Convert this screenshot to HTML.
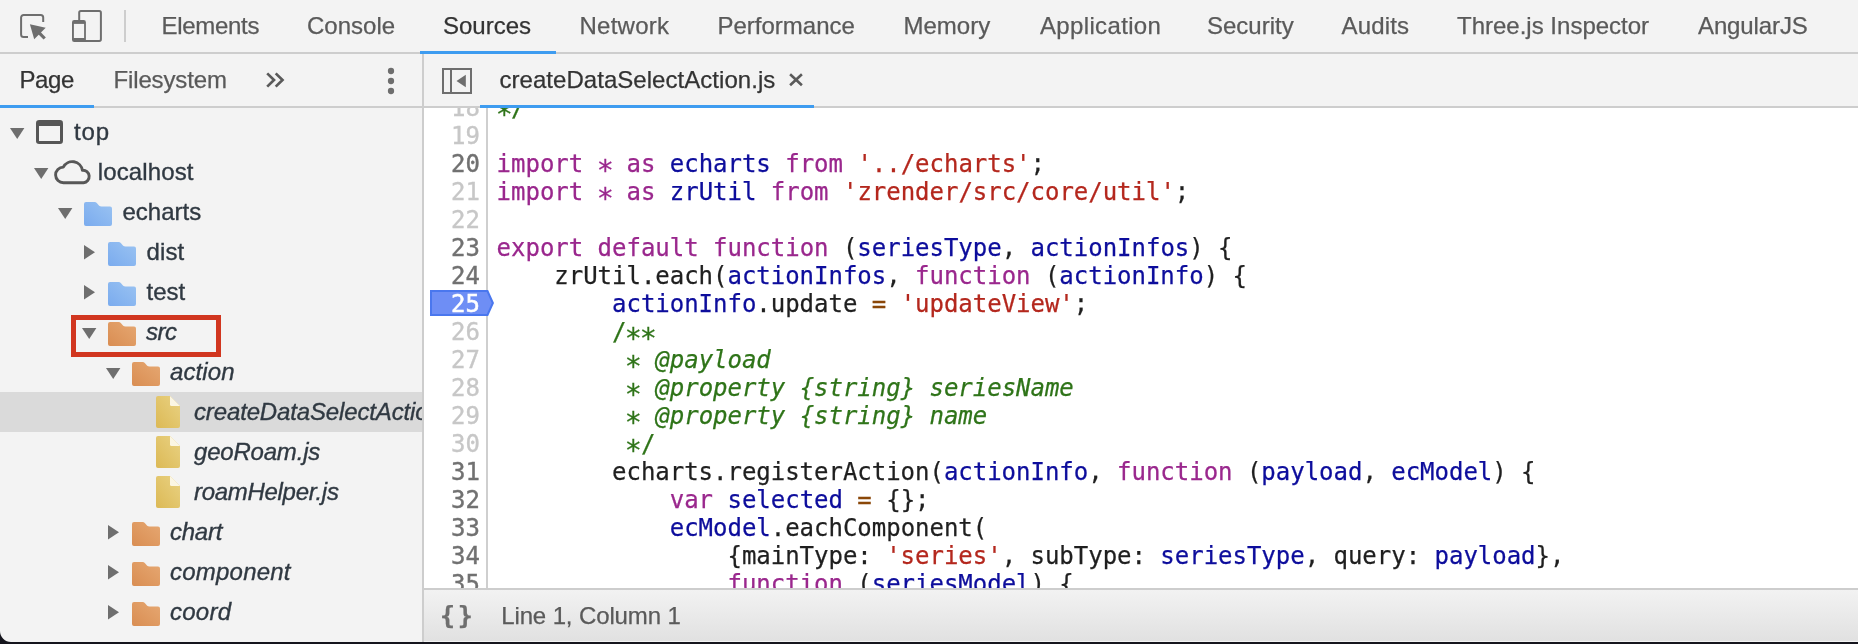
<!DOCTYPE html>
<html lang="en">
<head>
<meta charset="utf-8">
<title>DevTools - Sources</title>
<style>
html,body{margin:0;padding:0;width:1858px;height:644px;overflow:hidden;background:#f3f3f3;}
body{position:relative;font-family:"Liberation Sans",sans-serif;font-size:24px;color:#5a5a5a;-webkit-font-smoothing:antialiased;}
#app{position:absolute;left:0;top:0;width:1858px;height:644px;overflow:hidden;background:#f3f3f3;will-change:transform;}
.abs{position:absolute;}
/* main toolbar */
#topbar{position:absolute;left:0;top:0;width:1858px;height:52px;background:#f3f3f3;border-bottom:2px solid #cdcdcd;}
.tab{position:absolute;top:0;height:52px;line-height:51px;white-space:nowrap;color:#5a5a5a;font-size:24px;}
.tab.sel{color:#333;}
#tabline{position:absolute;left:420px;top:51px;width:136px;height:3px;background:#3e9cf0;}
/* second row */
#row2{position:absolute;left:0;top:54px;width:1858px;height:52px;background:#f3f3f3;border-bottom:2px solid #cdcdcd;}
.t2{position:absolute;top:54px;height:52px;line-height:51px;white-space:nowrap;font-size:24px;}
#vdiv{position:absolute;left:422px;top:54px;width:2px;height:590px;background:#cdcdcd;}
/* tree */
#tree{position:absolute;left:0;top:108px;width:422px;height:536px;overflow:hidden;background:#f3f3f3;}
.row{position:absolute;left:0;width:422px;height:40px;line-height:40px;white-space:nowrap;color:#303942;font-size:24px;}
.row.sel{background:#dadada;}
.row .lbl{position:absolute;top:-0.400px;}
.row i.lbl{font-style:italic;}
.row svg{position:absolute;}
/* code */
#code{position:absolute;left:424px;top:108px;width:1434px;height:480px;background:#fff;overflow:hidden;}
#gutter{position:absolute;left:0;top:0;width:62px;height:480px;background:#fff;border-right:2px solid #cfcfcf;}
.ln{position:absolute;left:0;width:56px;height:28px;line-height:28px;text-align:right;font-family:"DejaVu Sans Mono","Liberation Mono",monospace;font-size:24px;color:#c7c7c7;-webkit-text-stroke:0.350px currentColor;}
.ln.x{color:#717171;-webkit-text-stroke:0.400px currentColor;}
.cl{position:absolute;left:72.600px;letter-spacing:-0.020px;height:28px;line-height:28px;white-space:pre;font-family:"DejaVu Sans Mono","Liberation Mono",monospace;font-size:24px;color:#1f1f1f;}
.cl,.cl span{-webkit-text-stroke:0.250px currentColor;}
.tab,.t2,#status div{-webkit-text-stroke:0.250px currentColor;}
.lbl{-webkit-text-stroke:0.350px currentColor;}
.k{color:#9a278d;}
.d{color:#0d0d9c;}
.s{color:#b4271d;}
.o{color:#8a4708;}
.c{color:#2f7419;}
.c i{font-style:italic;}
.ast{display:inline-block;transform:translate(0,6.600px) scale(1.180);}
/* status */
#status{position:absolute;left:424px;top:588px;width:1434px;height:51px;border-top:2px solid #cdcdcd;background:linear-gradient(#f2f2f2,#e1e1e1);}
#bottom{position:absolute;left:0;top:641.500px;width:1858px;height:2.500px;background:#15151d;}
</style>
</head>
<body>
<div id="app">

<div id="topbar">
  <!-- inspect element icon -->
  <svg class="abs" style="left:16px;top:8px" width="36" height="36" viewBox="0 0 36 36">
    <path d="M27.200 14 V9.500 a2.500 2.500 0 0 0 -2.500 -2.500 H7.600 a2.500 2.500 0 0 0 -2.500 2.500 V26.500 a2.500 2.500 0 0 0 2.500 2.500 H12" fill="none" stroke="#6e6e6e" stroke-width="2"/>
    <path d="M13.900 16.200 L29.700 19.800 L18.200 31.300 Z" fill="#6e6e6e"/>
    <path d="M23 24.600 L28.700 30.500" fill="none" stroke="#6e6e6e" stroke-width="3.200"/>
  </svg>
  <!-- device toolbar icon -->
  <svg class="abs" style="left:68px;top:6px" width="40" height="40" viewBox="0 0 40 40">
    <rect x="11.200" y="5.100" width="21.700" height="29.800" rx="1.600" fill="none" stroke="#6e6e6e" stroke-width="2"/>
    <rect x="4" y="14.100" width="13.900" height="21.800" rx="2.200" fill="#6e6e6e"/>
    <rect x="5.900" y="17.900" width="10.200" height="14.100" fill="#f3f3f3"/>
  </svg>
  <div class="abs" style="left:124px;top:10px;width:2px;height:32px;background:#cdcdcd"></div>
  <div class="tab" style="left:161.500px;letter-spacing:-0.300px">Elements</div>
  <div class="tab" style="left:307px">Console</div>
  <div class="tab sel" style="left:443px">Sources</div>
  <div class="tab" style="left:579.500px;letter-spacing:0.250px">Network</div>
  <div class="tab" style="left:717.500px">Performance</div>
  <div class="tab" style="left:903.500px">Memory</div>
  <div class="tab" style="left:1040px;letter-spacing:0.350px">Application</div>
  <div class="tab" style="left:1207px">Security</div>
  <div class="tab" style="left:1341.500px;letter-spacing:0.150px">Audits</div>
  <div class="tab" style="left:1457px">Three.js Inspector</div>
  <div class="tab" style="left:1698px;letter-spacing:-0.120px">AngularJS</div>
</div>
<div id="tabline"></div>
<div id="row2"></div>
<div class="t2" style="left:19.500px;color:#333;letter-spacing:-0.400px">Page</div>
<div class="abs" style="left:0;top:105px;width:94px;height:3px;background:#3e9cf0"></div>
<div class="t2" style="left:113.500px;color:#5a5a5a;letter-spacing:-0.140px">Filesystem</div>
<!-- chevrons >> -->
<svg class="abs" style="left:262px;top:68px" width="26" height="24" viewBox="0 0 26 24">
  <path d="M5.200 5.400 L12 12 L5.200 18.600 M13.700 5.400 L20.500 12 L13.700 18.600" fill="none" stroke="#5a5a5a" stroke-width="2.700"/>
</svg>
<!-- kebab menu -->
<svg class="abs" style="left:382px;top:64px" width="18" height="34" viewBox="0 0 18 34">
  <circle cx="9" cy="7" r="3.150" fill="#6e6e6e"/><circle cx="9" cy="17" r="3.150" fill="#6e6e6e"/><circle cx="9" cy="27" r="3.150" fill="#6e6e6e"/>
</svg>
<!-- toggle navigator icon -->
<svg class="abs" style="left:440px;top:66px" width="34" height="30" viewBox="0 0 34 30">
  <rect x="3" y="3" width="28" height="24" fill="none" stroke="#6e6e6e" stroke-width="2"/>
  <rect x="10" y="3" width="2" height="24" fill="#6e6e6e"/>
  <path d="M16.500 15 L25.800 8.800 V21.200 Z" fill="#6e6e6e"/>
</svg>
<div class="t2" style="left:499.500px;color:#333;letter-spacing:0.040px">createDataSelectAction.js</div>
<svg class="abs" style="left:786px;top:70px" width="20" height="20" viewBox="0 0 20 20">
  <path d="M4.100 4.300 L15.900 15.200 M15.900 4.300 L4.100 15.200" fill="none" stroke="#5a5a5a" stroke-width="2.600"/>
</svg>
<div class="abs" style="left:480px;top:105px;width:334px;height:3px;background:#3e9cf0"></div>
<div id="vdiv"></div>
<svg width="0" height="0" style="position:absolute">
  <defs>
    <linearGradient id="gb" x1="0" y1="1" x2="1" y2="0"><stop offset="0" stop-color="#7aabee"/><stop offset="1" stop-color="#9ac3f2"/></linearGradient>
    <linearGradient id="go" x1="0" y1="1" x2="1" y2="0"><stop offset="0" stop-color="#d98d52"/><stop offset="1" stop-color="#e6a872"/></linearGradient>
    <linearGradient id="gy" x1="0" y1="1" x2="1" y2="0"><stop offset="0" stop-color="#dcb955"/><stop offset="1" stop-color="#e9d283"/></linearGradient>
  </defs>
</svg>
<div id="tree">
<div class="row" style="top:4px"><svg style="left:10px;top:16px" width="15" height="11" viewBox="0 0 15 11"><path d="M0 0 H14.400 L7.200 11 Z" fill="#6e6e6e"/></svg><svg style="left:36px;top:8px" width="28" height="24" viewBox="0 0 28 24"><rect x="0" y="0" width="27" height="24" rx="3.200" fill="#565656"/><rect x="3" y="6" width="21" height="15" fill="#f3f3f3"/></svg><span class="lbl" style="left:74px;letter-spacing:0.9px">top</span></div>
<div class="row" style="top:44px"><svg style="left:34px;top:16px" width="15" height="11" viewBox="0 0 15 11"><path d="M0 0 H14.400 L7.200 11 Z" fill="#6e6e6e"/></svg><svg style="left:52.600px;top:6px" width="40" height="28" viewBox="0 0 40 28"><path d="M10.500 24.700 H30.500 A6.200 6.200 0 1 0 29.400 12.300 A10.200 10.200 0 0 0 10.300 9.100 A7.500 7.500 0 0 0 10.500 24.700 Z" fill="none" stroke="#575757" stroke-width="2.900" stroke-linejoin="round"/></svg><span class="lbl" style="left:97.800px;letter-spacing:0.120px">localhost</span></div>
<div class="row" style="top:84px"><svg style="left:58px;top:16px" width="15" height="11" viewBox="0 0 15 11"><path d="M0 0 H14.400 L7.200 11 Z" fill="#6e6e6e"/></svg><svg style="left:84px;top:10px" width="28" height="24" viewBox="0 0 28 24"><path d="M2 0 H10.500 Q12 0 13 1.200 L15.200 3.800 Q16 4.600 17.500 4.600 H26 Q28 4.600 28 6.600 V22 Q28 24 26 24 H2 Q0 24 0 22 V2 Q0 0 2 0 Z" fill="url(#gb)"/></svg><span class="lbl" style="left:122.5px;letter-spacing:0px">echarts</span></div>
<div class="row" style="top:124px"><svg style="left:84px;top:13px" width="11" height="15" viewBox="0 0 11 15"><path d="M0 0 L11 7.200 L0 14.400 Z" fill="#6e6e6e"/></svg><svg style="left:108px;top:10px" width="28" height="24" viewBox="0 0 28 24"><path d="M2 0 H10.500 Q12 0 13 1.200 L15.200 3.800 Q16 4.600 17.500 4.600 H26 Q28 4.600 28 6.600 V22 Q28 24 26 24 H2 Q0 24 0 22 V2 Q0 0 2 0 Z" fill="url(#gb)"/></svg><span class="lbl" style="left:146.5px;letter-spacing:0.1px">dist</span></div>
<div class="row" style="top:164px"><svg style="left:84px;top:13px" width="11" height="15" viewBox="0 0 11 15"><path d="M0 0 L11 7.200 L0 14.400 Z" fill="#6e6e6e"/></svg><svg style="left:108px;top:10px" width="28" height="24" viewBox="0 0 28 24"><path d="M2 0 H10.500 Q12 0 13 1.200 L15.200 3.800 Q16 4.600 17.500 4.600 H26 Q28 4.600 28 6.600 V22 Q28 24 26 24 H2 Q0 24 0 22 V2 Q0 0 2 0 Z" fill="url(#gb)"/></svg><span class="lbl" style="left:146.5px;letter-spacing:0px">test</span></div>
<div class="row" style="top:204px"><svg style="left:82px;top:16px" width="15" height="11" viewBox="0 0 15 11"><path d="M0 0 H14.400 L7.200 11 Z" fill="#6e6e6e"/></svg><svg style="left:108px;top:10px" width="28" height="24" viewBox="0 0 28 24"><path d="M2 0 H10.500 Q12 0 13 1.200 L15.200 3.800 Q16 4.600 17.500 4.600 H26 Q28 4.600 28 6.600 V22 Q28 24 26 24 H2 Q0 24 0 22 V2 Q0 0 2 0 Z" fill="url(#go)"/></svg><i class="lbl" style="left:146px;letter-spacing:-0.500px">src</i></div>
<div class="row" style="top:244px"><svg style="left:106px;top:16px" width="15" height="11" viewBox="0 0 15 11"><path d="M0 0 H14.400 L7.200 11 Z" fill="#6e6e6e"/></svg><svg style="left:132px;top:10px" width="28" height="24" viewBox="0 0 28 24"><path d="M2 0 H10.500 Q12 0 13 1.200 L15.200 3.800 Q16 4.600 17.500 4.600 H26 Q28 4.600 28 6.600 V22 Q28 24 26 24 H2 Q0 24 0 22 V2 Q0 0 2 0 Z" fill="url(#go)"/></svg><i class="lbl" style="left:170px;letter-spacing:0.100px">action</i></div>
<div class="row sel" style="top:284px"><svg style="left:156px;top:4px" width="24" height="32" viewBox="0 0 24 32"><path d="M2 0 H14 L24 10 V30 Q24 32 22 32 H2 Q0 32 0 30 V2 Q0 0 2 0 Z" fill="url(#gy)"/><path d="M14 0 L24 10 H15.500 Q14 10 14 8.500 Z" fill="#fbf6e4"/></svg><i class="lbl" style="left:194px;letter-spacing:-0.140px">createDataSelectAction.js</i></div>
<div class="row" style="top:324px"><svg style="left:156px;top:4px" width="24" height="32" viewBox="0 0 24 32"><path d="M2 0 H14 L24 10 V30 Q24 32 22 32 H2 Q0 32 0 30 V2 Q0 0 2 0 Z" fill="url(#gy)"/><path d="M14 0 L24 10 H15.500 Q14 10 14 8.500 Z" fill="#fbf6e4"/></svg><i class="lbl" style="left:194px;letter-spacing:-0.2px">geoRoam.js</i></div>
<div class="row" style="top:364px"><svg style="left:156px;top:4px" width="24" height="32" viewBox="0 0 24 32"><path d="M2 0 H14 L24 10 V30 Q24 32 22 32 H2 Q0 32 0 30 V2 Q0 0 2 0 Z" fill="url(#gy)"/><path d="M14 0 L24 10 H15.500 Q14 10 14 8.500 Z" fill="#fbf6e4"/></svg><i class="lbl" style="left:194px;letter-spacing:-0.3px">roamHelper.js</i></div>
<div class="row" style="top:404px"><svg style="left:108px;top:13px" width="11" height="15" viewBox="0 0 11 15"><path d="M0 0 L11 7.200 L0 14.400 Z" fill="#6e6e6e"/></svg><svg style="left:132px;top:10px" width="28" height="24" viewBox="0 0 28 24"><path d="M2 0 H10.500 Q12 0 13 1.200 L15.200 3.800 Q16 4.600 17.500 4.600 H26 Q28 4.600 28 6.600 V22 Q28 24 26 24 H2 Q0 24 0 22 V2 Q0 0 2 0 Z" fill="url(#go)"/></svg><i class="lbl" style="left:170px;letter-spacing:-0.25px">chart</i></div>
<div class="row" style="top:444px"><svg style="left:108px;top:13px" width="11" height="15" viewBox="0 0 11 15"><path d="M0 0 L11 7.200 L0 14.400 Z" fill="#6e6e6e"/></svg><svg style="left:132px;top:10px" width="28" height="24" viewBox="0 0 28 24"><path d="M2 0 H10.500 Q12 0 13 1.200 L15.200 3.800 Q16 4.600 17.500 4.600 H26 Q28 4.600 28 6.600 V22 Q28 24 26 24 H2 Q0 24 0 22 V2 Q0 0 2 0 Z" fill="url(#go)"/></svg><i class="lbl" style="left:170px;letter-spacing:0.22px">component</i></div>
<div class="row" style="top:484px"><svg style="left:108px;top:13px" width="11" height="15" viewBox="0 0 11 15"><path d="M0 0 L11 7.200 L0 14.400 Z" fill="#6e6e6e"/></svg><svg style="left:132px;top:10px" width="28" height="24" viewBox="0 0 28 24"><path d="M2 0 H10.500 Q12 0 13 1.200 L15.200 3.800 Q16 4.600 17.500 4.600 H26 Q28 4.600 28 6.600 V22 Q28 24 26 24 H2 Q0 24 0 22 V2 Q0 0 2 0 Z" fill="url(#go)"/></svg><i class="lbl" style="left:170px;letter-spacing:0.25px">coord</i></div>
</div>
<div class="abs" style="left:71px;top:315px;width:140px;height:32px;border:5px solid #d1361f"></div>
<div id="code"><div id="gutter"></div>
<div class="ln" style="top:-14px">18</div>
<div class="ln" style="top:14px">19</div>
<div class="ln x" style="top:42px">20</div>
<div class="ln" style="top:70px">21</div>
<div class="ln" style="top:98px">22</div>
<div class="ln x" style="top:126px">23</div>
<div class="ln x" style="top:154px">24</div>
<svg class="abs" style="left:6px;top:182px" width="66" height="26" viewBox="0 0 66 26"><path d="M1 1 H57.500 L62.900 13 L57.500 25 H1 Z" fill="#6e8ef5" stroke="#4a77ee" stroke-width="2" stroke-linejoin="miter"/></svg>
<div class="ln" style="top:182px;color:#fff;-webkit-text-stroke:0.500px #fff">25</div>
<div class="ln" style="top:210px">26</div>
<div class="ln" style="top:238px">27</div>
<div class="ln" style="top:266px">28</div>
<div class="ln" style="top:294px">29</div>
<div class="ln" style="top:322px">30</div>
<div class="ln x" style="top:350px">31</div>
<div class="ln x" style="top:378px">32</div>
<div class="ln x" style="top:406px">33</div>
<div class="ln x" style="top:434px">34</div>
<div class="ln x" style="top:462px">35</div>
<div class="cl" style="top:-14px"><span class="c"><span class="ast">*</span>/</span></div>
<div class="cl" style="top:42px"><span class="k">import</span> <span class="k ast">*</span> <span class="k">as</span> <span class="d">echarts</span> <span class="k">from</span> <span class="s">'../echarts'</span>;</div>
<div class="cl" style="top:70px"><span class="k">import</span> <span class="k ast">*</span> <span class="k">as</span> <span class="d">zrUtil</span> <span class="k">from</span> <span class="s">'zrender/src/core/util'</span>;</div>
<div class="cl" style="top:126px"><span class="k">export</span> <span class="k">default</span> <span class="k">function</span> (<span class="d">seriesType</span>, <span class="d">actionInfos</span>) {</div>
<div class="cl" style="top:154px">    zrUtil.each(<span class="d">actionInfos</span>, <span class="k">function</span> (<span class="d">actionInfo</span>) {</div>
<div class="cl" style="top:182px">        <span class="d">actionInfo</span>.update <span class="o">=</span> <span class="s">'updateView'</span>;</div>
<div class="cl" style="top:210px">        <span class="c">/<span class="ast">*</span><span class="ast">*</span></span></div>
<div class="cl" style="top:238px">        <span class="c"> <span class="ast">*</span> <i>@payload</i></span></div>
<div class="cl" style="top:266px">        <span class="c"> <span class="ast">*</span> <i>@property {string} seriesName</i></span></div>
<div class="cl" style="top:294px">        <span class="c"> <span class="ast">*</span> <i>@property {string} name</i></span></div>
<div class="cl" style="top:322px">        <span class="c"> <span class="ast">*</span>/</span></div>
<div class="cl" style="top:350px">        echarts.registerAction(<span class="d">actionInfo</span>, <span class="k">function</span> (<span class="d">payload</span>, <span class="d">ecModel</span>) {</div>
<div class="cl" style="top:378px">            <span class="k">var</span> <span class="d">selected</span> <span class="o">=</span> {};</div>
<div class="cl" style="top:406px">            <span class="d">ecModel</span>.eachComponent(</div>
<div class="cl" style="top:434px">                {mainType: <span class="s">'series'</span>, subType: <span class="d">seriesType</span>, query: <span class="d">payload</span>},</div>
<div class="cl" style="top:462px">                <span class="k">function</span> (<span class="d">seriesModel</span>) {</div>
</div>
<div id="status">
  <div class="abs" style="left:16px;top:0;height:51px;line-height:51px;font-family:'DejaVu Sans Mono','Liberation Mono',monospace;font-weight:bold;font-size:25px;letter-spacing:2.600px;color:#6e6e6e;white-space:pre">{}</div>
  <div class="abs" style="left:77.200px;top:0;height:51px;line-height:51px;font-size:24px;letter-spacing:-0.120px;color:#5a5a5a;white-space:nowrap">Line 1, Column 1</div>
</div>
<div id="bottom"></div>
<svg class="abs" style="left:0;top:630.500px" width="11" height="11" viewBox="0 0 11 11"><path d="M0 0 V11 H11 A11 11 0 0 1 0 0 Z" fill="#15151d"/></svg>

</div>
</body>
</html>
